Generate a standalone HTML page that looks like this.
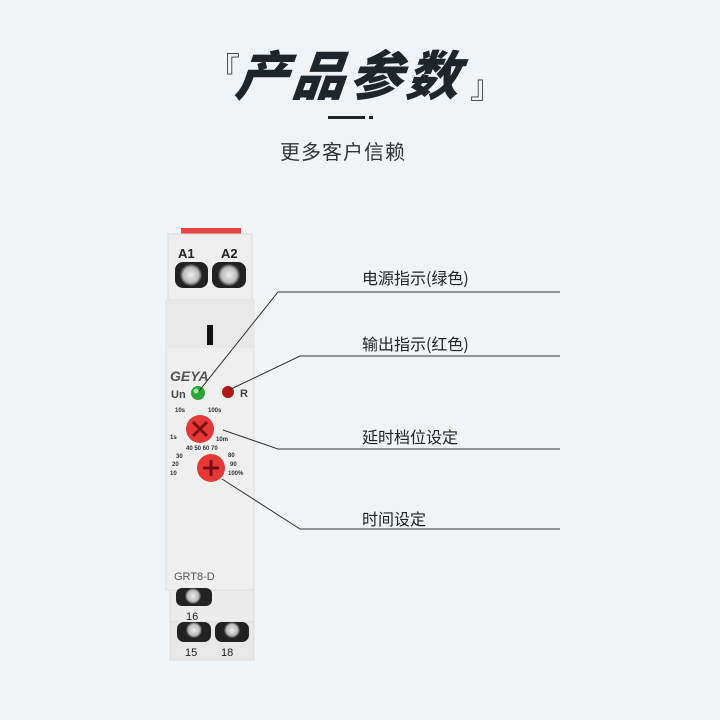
<!DOCTYPE html>
<html><head><meta charset="utf-8"><style>
html,body{margin:0;padding:0}
body{width:720px;height:720px;background:#f1f4f7;position:relative;overflow:hidden;font-family:"Liberation Sans","Noto Sans CJK SC",sans-serif}
.a{position:absolute}
.t{font-family:"Noto Sans CJK SC",sans-serif;color:#222;font-size:16px;white-space:nowrap}
</style></head><body>
<div class="a" style="left:208px;top:44px;font-family:'Noto Sans CJK SC',sans-serif;font-size:32px;color:#333;font-weight:300">『</div>
<div class="a" style="left:236px;top:38px;font-family:'Noto Sans CJK SC',sans-serif;font-size:53px;font-weight:900;color:#1e252b;font-style:italic;letter-spacing:4px;transform:skewX(-6deg);line-height:70px">产品参数</div>
<div class="a" style="left:470px;top:62px;font-family:'Noto Sans CJK SC',sans-serif;font-size:32px;color:#333;font-weight:300">』</div>
<div class="a" style="left:328px;top:116px;width:37px;height:3px;background:#222"></div>
<div class="a" style="left:369px;top:116px;width:4px;height:3px;background:#222"></div>
<div class="a" style="left:280px;top:136px;font-family:'Noto Sans CJK SC',sans-serif;font-size:20px;color:#333;letter-spacing:1px">更多客户信赖</div>

<svg class="a" style="left:0;top:0" width="720" height="720">
<defs>
<radialGradient id="sc" cx="50%" cy="50%" r="50%"><stop offset="0" stop-color="#eee"/><stop offset="0.7" stop-color="#bbb"/><stop offset="1" stop-color="#333"/></radialGradient>
</defs>
<rect x="181" y="228" width="60" height="6" fill="#e84545"/>
<rect x="168" y="234" width="84" height="68" fill="#eeeeee" stroke="#dcdcdc"/>
<text x="178" y="258" font-size="13" font-weight="bold" fill="#222">A1</text>
<text x="221" y="258" font-size="13" font-weight="bold" fill="#222">A2</text>
<rect x="175" y="262" width="33" height="26" rx="8" fill="#222"/>
<rect x="212" y="262" width="34" height="26" rx="8" fill="#222"/>
<circle cx="191" cy="275" r="11" fill="url(#sc)"/>
<circle cx="229" cy="275" r="11" fill="url(#sc)"/>
<rect x="166" y="300" width="88" height="290" fill="#efefef" stroke="#dedede"/>
<rect x="166" y="300" width="88" height="48" fill="#e8e8e8"/>
<rect x="207" y="325" width="6" height="20" fill="#111"/>
<text x="170" y="381" font-size="14" font-weight="900" fill="#555" font-style="italic">GEYA</text>
<text x="171" y="398" font-size="11" font-weight="bold" fill="#444">Un</text>
<circle cx="198" cy="393" r="7" fill="#2fa33a"/>
<circle cx="196" cy="391" r="2.5" fill="#9e9"/>
<circle cx="228" cy="392" r="6" fill="#b01818"/>
<text x="240" y="397" font-size="11" font-weight="bold" fill="#444">R</text>
<g font-size="6" fill="#333" font-weight="bold">
<text x="175" y="412">10s</text><text x="208" y="412">100s</text>
<text x="170" y="439">1s</text><text x="216" y="441">10m</text>
<text x="186" y="450">40 50 60 70</text>
<text x="176" y="458">30</text><text x="228" y="457">80</text>
<text x="172" y="466">20</text><text x="230" y="466">90</text>
<text x="170" y="475">10</text><text x="228" y="475">100%</text>
</g>
<circle cx="200" cy="429" r="14" fill="#e53838"/>
<path d="M193 422 L207 436 M207 422 L193 436" stroke="#7a1010" stroke-width="3"/>
<circle cx="211" cy="468" r="14" fill="#e53838"/>
<path d="M211 460 V476 M203 468 H219" stroke="#7a1010" stroke-width="3"/>
<text x="174" y="580" font-size="11" fill="#555">GRT8-D</text>
<rect x="170" y="590" width="84" height="32" fill="#ececec" stroke="#dcdcdc"/>
<rect x="176" y="588" width="36" height="18" rx="6" fill="#222"/>
<circle cx="193" cy="596" r="8" fill="url(#sc)"/>
<text x="186" y="620" font-size="11" fill="#222">16</text>
<rect x="170" y="622" width="84" height="38" fill="#e8e8e8" stroke="#dcdcdc"/>
<rect x="177" y="622" width="34" height="20" rx="7" fill="#222"/>
<rect x="215" y="622" width="34" height="20" rx="7" fill="#222"/>
<circle cx="194" cy="630" r="8" fill="url(#sc)"/>
<circle cx="232" cy="630" r="8" fill="url(#sc)"/>
<text x="185" y="656" font-size="11" fill="#222">15</text>
<text x="221" y="656" font-size="11" fill="#222">18</text>
<g stroke="#333" stroke-width="1" fill="none">
<polyline points="199,391 278,292 560,292"/>
<polyline points="229,390 300,356 560,356"/>
<polyline points="223,430 278,449 560,449"/>
<polyline points="222,479 300,529 560,529"/>
</g>
</svg>
<div class="a t" style="left:362px;top:265px">电源指示(绿色)</div>
<div class="a t" style="left:362px;top:331px">输出指示(红色)</div>
<div class="a t" style="left:362px;top:424px">延时档位设定</div>
<div class="a t" style="left:362px;top:506px">时间设定</div>
</body></html>
